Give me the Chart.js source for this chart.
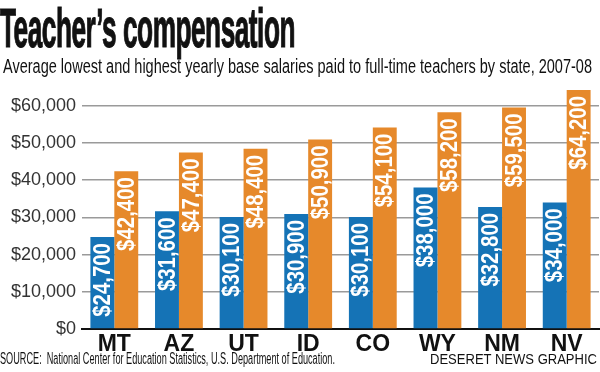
<!DOCTYPE html>
<html>
<head>
<meta charset="utf-8">
<script src="https://cdn.jsdelivr.net/npm/chart.js@4/dist/chart.umd.min.js"></script>
<style>
  html, body { margin: 0; padding: 0; background: #fff; }
  #wrap { position: relative; width: 600px; height: 372px; overflow: hidden; }
  #wrap canvas { position: absolute; left: 0; top: 0; }
  .txt { position: absolute; white-space: nowrap; transform-origin: 0 0; color: #111; }
  #title { left: 0; top: -4px; font: bold 55px "Liberation Sans", sans-serif; letter-spacing: -1px; -webkit-text-stroke: 1.2px #111; }
  #sub { left: 3px; top: 55px; font: 20px "Liberation Sans", sans-serif; }
  #src { left: 0; top: 350px; font: 16px "Liberation Sans", sans-serif; }
  #credit { left: 430px; top: 351px; font: 14px "Liberation Sans", sans-serif; }
</style>
</head>
<body>
<div id="wrap">
  <canvas id="chart" width="600" height="372"></canvas>
  <div class="txt" id="title">Teacher’s compensation</div>
  <div class="txt" id="sub">Average lowest and highest yearly base salaries paid to full-time teachers by state, 2007-08</div>
  <div class="txt" id="src">SOURCE:&nbsp; National Center for Education Statistics, U.S. Department of Education.</div>
  <div class="txt" id="credit">DESERET NEWS GRAPHIC</div>
</div>
<script>
const states = ['MT', 'AZ', 'UT', 'ID', 'CO', 'WY', 'NM', 'NV'];
const lowest = [24700, 31600, 30100, 30900, 30100, 38000, 32800, 34000];
const highest = [42400, 47400, 48400, 50900, 54100, 58200, 59500, 64200];
const yTicks = [0, 10000, 20000, 30000, 40000, 50000, 60000];

// squeeze header/footer text to the widths in the graphic
function fitWidth(id, w) {
  const el = document.getElementById(id);
  el.style.transform = 'scaleX(' + (w / el.getBoundingClientRect().width) + ')';
}
fitWidth('title', 295);
fitWidth('sub', 589);
fitWidth('src', 335);
fitWidth('credit', 167);

const money = v => '$' + v.toLocaleString('en-US');

const barLabels = {
  id: 'barLabels',
  afterDatasetsDraw(chart) {
    const ctx = chart.ctx;
    ctx.save();
    ctx.fillStyle = '#fff';
    ctx.font = 'bold 24px "Liberation Sans", sans-serif';
    ctx.textAlign = 'right';
    ctx.textBaseline = 'middle';
    chart.data.datasets.forEach((ds, i) => {
      chart.getDatasetMeta(i).data.forEach((bar, j) => {
        ctx.save();
        ctx.translate(bar.x, bar.y + 6);
        ctx.rotate(-Math.PI / 2);
        ctx.scale(0.85, 1);
        ctx.fillText(money(ds.data[j]), 0, 1);
        ctx.restore();
      });
    });
    ctx.restore();
  }
};

new Chart(document.getElementById('chart'), {
  type: 'bar',
  data: {
    labels: states,
    datasets: [{
      label: 'Lowest',
      data: lowest,
      backgroundColor: '#1573b6',
    },
    {
      label: 'Highest',
      data: highest,
      backgroundColor: '#e6892b',
    }]
  },
  options: {
    responsive: false,
    animation: false,
    layout: { padding: { top: 87, right: 1, bottom: 0, left: 0 } },
    plugins: { legend: { display: false }, tooltip: { enabled: false } },
    datasets: { bar: { categoryPercentage: 0.74, barPercentage: 1 } },
    scales: {
      x: {
        grid: { display: false, drawTicks: false },
        border: { color: '#111', width: 2 },
        ticks: {
          color: '#111',
          padding: 2,
          font: { family: '"Liberation Sans", sans-serif', size: 23, weight: 'bold' }
        },
        afterFit(scale) { scale.height = 43; }
      },
      y: {
        min: 0,
        max: 65000,
        afterBuildTicks(scale) { scale.ticks = yTicks.map(v => ({ value: v })); },
        grid: { color: '#9a9a9a', lineWidth: 1.5, drawTicks: false },
        border: { display: false },
        ticks: {
          color: '#333',
          padding: 6,
          font: { family: '"Liberation Sans", sans-serif', size: 18 },
          callback: v => money(v)
        },
        afterFit(scale) { scale.width = 82; }
      }
    }
  },
  plugins: [barLabels]
});
</script>
</body>
</html>
